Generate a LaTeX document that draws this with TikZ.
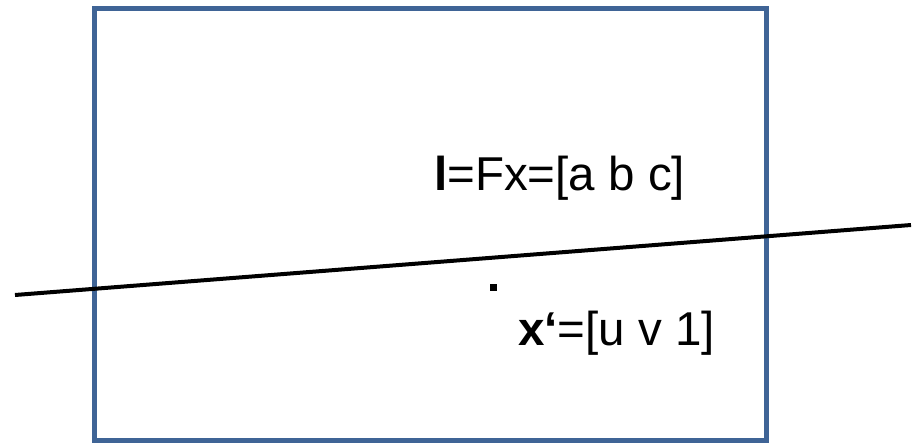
\documentclass[tikz,border=0pt]{standalone}
\usepackage{fontspec}
\setmainfont{Liberation Sans}
\usepackage{tikz}
\usetikzlibrary{positioning}
\definecolor{framecol}{RGB}{63,100,150}

\begin{document}
\begin{tikzpicture}[x=1pt, y=-1pt,
  label text/.style={inner sep=0pt, anchor=base west, font=\fontsize{47.5}{57}\selectfont}]
\useasboundingbox (0,0) rectangle (918,444);
% image frame
\draw[framecol, line width=5pt] (94.5,8.5) rectangle (766.5,440.5);
% epipolar line
\coordinate (l1) at (15,295);
\coordinate (l2) at (911,225);
\draw[line width=4pt] (l1) -- (l2);
% point and labels
\node[fill=black, minimum size=6.5pt, inner sep=0pt] (pt) at (493.3,287.3) {};
\node[label text] (lab) at (434,190.5) {\textbf{l}=Fx=[a b c]};
\node[label text] (xp) at (518,345) {\textbf{x‘}=[u v 1]};
\end{tikzpicture}
\end{document}
